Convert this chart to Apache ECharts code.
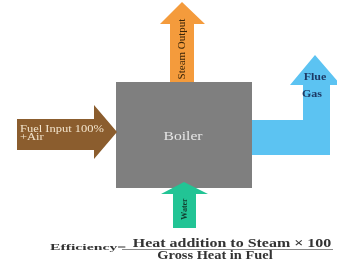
<!DOCTYPE html>
<html>
<head>
<meta charset="utf-8">
<script src="https://cdn.jsdelivr.net/npm/echarts@6/dist/echarts.min.js"></script>
<style>
  html, body { margin: 0; padding: 0; background: #fff; }
  #main { width: 337px; height: 262px; }
</style>
</head>
<body>
<div id="main"></div>
<script>
// labels of the diagram
var boilerLabel = "Boiler";
var fuelLabels = ["Fuel Input 100%", "+Air"];
var steamLabel = "Steam Output";
var flueLabels = ["Flue", "Gas"];
var waterLabel = "Water";
var formulaLeft = "Efficiency=";
var formulaTop = "Heat addition to Steam \u00d7 100";
var formulaBottom = "Gross Heat in Fuel";

var serif = "'Liberation Serif', 'DejaVu Serif', serif";

var myChart = echarts.init(document.getElementById("main"), null, { renderer: "canvas" });

var option = {
  backgroundColor: "#ffffff",
  graphic: [
    // steam output arrow
    {
      type: "polygon",
      shape: { points: [[170, 82], [170, 24], [160, 24], [182, 2], [205, 24], [194, 24], [194, 82]] },
      style: { fill: "#f49b3c" }
    },
    // boiler
    {
      type: "rect",
      shape: { x: 116, y: 82, width: 136, height: 106 },
      style: { fill: "#7f7f7f" }
    },
    // fuel input arrow
    {
      type: "polygon",
      shape: { points: [[17, 119], [94, 119], [94, 105], [117, 132], [94, 159], [94, 150], [17, 150]] },
      style: { fill: "#8b5d2e" }
    },
    // flue gas arrow
    {
      type: "polygon",
      shape: { points: [[252, 120], [303, 120], [303, 85], [290, 85], [315, 55], [341, 85], [330, 85], [330, 155], [252, 155]] },
      style: { fill: "#5cc3f2" }
    },
    // water arrow
    {
      type: "polygon",
      shape: { points: [[173, 228], [173, 194], [161, 194], [184, 182], [208, 194], [196, 194], [196, 228]] },
      style: { fill: "#22c495" }
    },
    {
      type: "text", x: 183, y: 137, scaleX: 1.2,
      style: { text: boilerLabel, font: "13px " + serif, fill: "#e6e6e6", align: "center", verticalAlign: "middle" }
    },
    {
      type: "text", x: 20, y: 129, scaleX: 1.25,
      style: { text: fuelLabels[0], font: "10px " + serif, fill: "#f3e4cc", align: "left", verticalAlign: "middle" }
    },
    {
      type: "text", x: 20, y: 137, scaleX: 1.25,
      style: { text: fuelLabels[1], font: "10px " + serif, fill: "#f3e4cc", align: "left", verticalAlign: "middle" }
    },
    {
      type: "text", x: 182, y: 49, rotation: Math.PI / 2,
      style: { text: steamLabel, font: "11px " + serif, fill: "#3b2508", align: "center", verticalAlign: "middle" }
    },
    {
      type: "text", x: 185, y: 209, rotation: Math.PI / 2,
      style: { text: waterLabel, font: "bold 8px " + serif, fill: "#123a2c", align: "center", verticalAlign: "middle" }
    },
    {
      type: "text", x: 315, y: 77, scaleX: 1.2,
      style: { text: flueLabels[0], font: "bold 10px " + serif, fill: "#1d3a66", align: "center", verticalAlign: "middle" }
    },
    {
      type: "text", x: 312, y: 94, scaleX: 1.2,
      style: { text: flueLabels[1], font: "bold 10px " + serif, fill: "#1d3a66", align: "center", verticalAlign: "middle" }
    },
    {
      type: "text", x: 50, y: 248, scaleX: 1.75,
      style: { text: formulaLeft, font: "bold 9px " + serif, fill: "#333333", align: "left", verticalAlign: "middle" }
    },
    {
      type: "line",
      shape: { x1: 122, y1: 249.5, x2: 333, y2: 249.5 },
      style: { stroke: "#888888", lineWidth: 1 }
    },
    {
      type: "text", x: 232, y: 244, scaleX: 1.33,
      style: { text: formulaTop, font: "bold 12px " + serif, fill: "#333333", align: "center", verticalAlign: "middle" }
    },
    {
      type: "text", x: 215, y: 256, scaleX: 1.2,
      style: { text: formulaBottom, font: "bold 12px " + serif, fill: "#333333", align: "center", verticalAlign: "middle" }
    }
  ]
};

myChart.setOption(option, true);
</script>
</body>
</html>
